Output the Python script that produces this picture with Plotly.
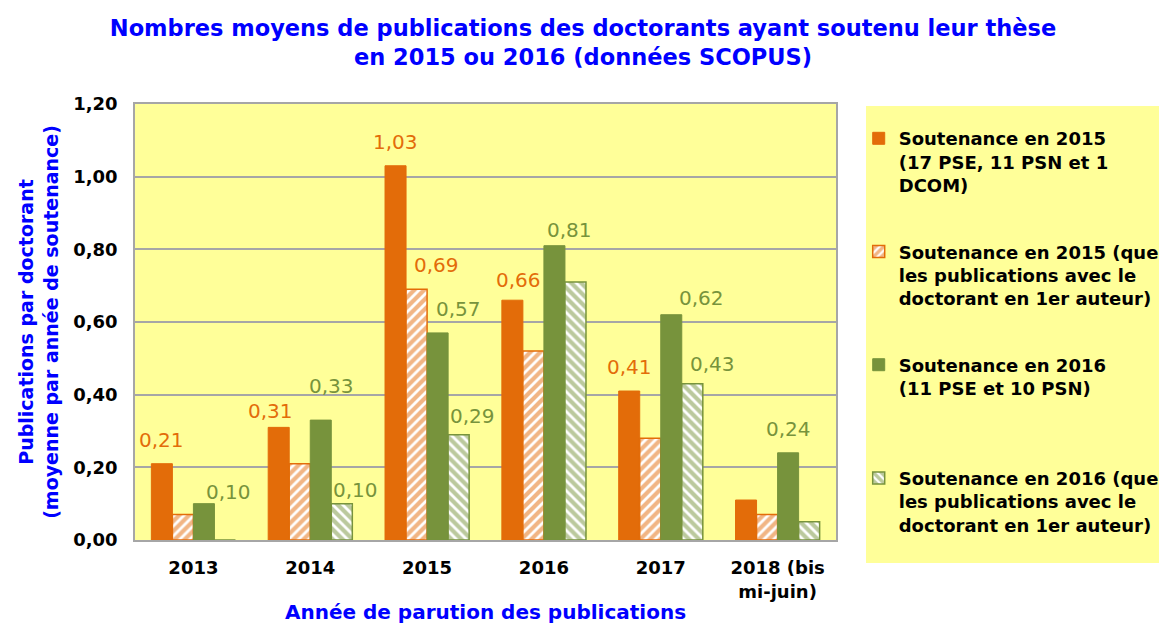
import plotly.graph_objects as go

years = ["2013", "2014", "2015", "2016", "2017", "2018 (bis<br>mi-juin)"]
s2015_all = [0.21, 0.31, 1.03, 0.66, 0.41, 0.11]
s2015_first = [0.07, 0.21, 0.69, 0.52, 0.28, 0.07]
s2016_all = [0.10, 0.33, 0.57, 0.81, 0.62, 0.24]
s2016_first = [0.00, 0.10, 0.29, 0.71, 0.43, 0.05]

names = [
    "Soutenance en 2015<br>(17 PSE, 11 PSN et 1<br>DCOM)",
    "Soutenance en 2015 (que<br>les publications avec le<br>doctorant en 1er auteur)",
    "Soutenance en 2016<br>(11 PSE et 10 PSN)<br>\u00a0",
    "Soutenance en 2016 (que<br>les publications avec le<br>doctorant en 1er auteur)",
]

# Data-label placement (pixel nudges as in the original, None = no label): (dx, dy)
label_nudges = [
    [(0, 24), (-8, 16), (0, 24), (6, 20), (0, 24), None],
    [None, None, (20, 24), None, None, None],
    [(25, 12), (11, 34), (21, 24), (15, 16), (30, 17), (0, 24)],
    [None, (14, 14), (14, 19), None, (20, 20), None],
]

ORANGE = "#E36C09"
GREEN = "#77933C"
FONT = "DejaVu Sans"

series = [s2015_all, s2015_first, s2016_all, s2016_first]
colors = [ORANGE, ORANGE, GREEN, GREEN]
patterns = ["", "/", "", "\\"]

OFF = 8  # page body margin
PAGE_W, PAGE_H = 1167, 624
W, H = PAGE_W - OFF, PAGE_H - OFF
# plot area in page pixels
PX0, PX1, PY0, PY1 = 135, 836, 104, 540
M_L, M_T = PX0 - OFF, PY0 - OFF
M_R, M_B = OFF + W - PX1, OFF + H - PY1
BARGAP = 0.28
plot_w = PX1 - PX0
plot_h = PY1 - PY0
bar_w = plot_w / len(years) * (1 - BARGAP) / len(series)


def px2paper_x(X):
    return (X - PX0) / plot_w


def px2paper_y(Y):
    return (PY1 - Y) / plot_h


fig = go.Figure()
for k, (vals, col, pat, name) in enumerate(zip(series, colors, patterns, names)):
    if pat:
        marker = dict(color="white", line=dict(color=col, width=1.5),
                      pattern=dict(shape=pat, fgcolor=col, bgcolor="white", size=7, solidity=0.6))
    else:
        marker = dict(color=col, line=dict(color=col, width=1))
    fig.add_trace(go.Bar(x=years, y=vals, name=name, legendgroup=f"g{k}", marker=marker))
    for i, (yr, v) in enumerate(zip(years, vals)):
        nd = label_nudges[k][i]
        if nd is None:
            continue
        fig.add_annotation(
            x=i, y=v, xref="x", yref="y",
            text=f"{v:.2f}".replace(".", ","), showarrow=False,
            xanchor="center", yanchor="middle",
            xshift=(k - 1.5) * bar_w + nd[0], yshift=nd[1],
            font=dict(color=col, size=20, family=FONT),
        )

# legend panel (page pixels 866..1167 x 106..563)
fig.add_shape(type="rect", xref="paper", yref="paper",
              x0=px2paper_x(866), x1=px2paper_x(PAGE_W + 5),
              y0=px2paper_y(563), y1=px2paper_y(106),
              fillcolor="#FFFF99", line=dict(width=0), layer="below")

fig.update_layout(
    width=W, height=H,
    margin=dict(l=M_L, r=M_R, t=M_T, b=M_B, autoexpand=False),
    paper_bgcolor="white", plot_bgcolor="#FFFF99",
    separators=", ",
    barmode="group", bargap=BARGAP, bargroupgap=0,
    font=dict(family=FONT, color="black"),
    title=dict(
        text="<b>Nombres moyens de publications des doctorants ayant soutenu leur thèse<br>en 2015 ou 2016 (données SCOPUS)</b>",
        x=(583 - OFF) / W, xref="container", xanchor="center", y=0.955, yref="container", yanchor="top",
        font=dict(size=22.5, color="#0000FF", family=FONT),
    ),
    legend=dict(
        x=0.734, y=0.818, xref="container", yref="container", xanchor="left", yanchor="top",
        bgcolor="rgba(0,0,0,0)", valign="top", maxheight=600,
        tracegroupgap=40, traceorder="grouped",
        font=dict(size=18, color="black", family=FONT, weight="bold"),
    ),
    showlegend=True,
)
fig.update_xaxes(
    type="category", automargin=False,
    showline=True, linecolor="#A6A6A6", linewidth=1.5, mirror=True,
    ticks="", ticklabelstandoff=11,
    tickfont=dict(size=18, family=FONT, color="black", weight="bold"),
    title=dict(text="<b>Année de parution des publications</b>", standoff=6,
               font=dict(size=20, color="#0000FF", family=FONT)),
)
fig.update_yaxes(
    automargin=False,
    range=[0, 1.2], dtick=0.2, tickformat=".2f",
    showgrid=True, gridcolor="#A6A6A6", gridwidth=1.5,
    showline=True, linecolor="#A6A6A6", linewidth=1.5, mirror=True,
    zeroline=False, ticks="", ticklabelstandoff=12,
    tickfont=dict(size=18, family=FONT, color="black", weight="bold"),
    title=dict(text="<b>Publications par doctorant<br>(moyenne par année de soutenance)</b>", standoff=10,
               font=dict(size=19, color="#0000FF", family=FONT)),
)

fig.write_html("out.html")
